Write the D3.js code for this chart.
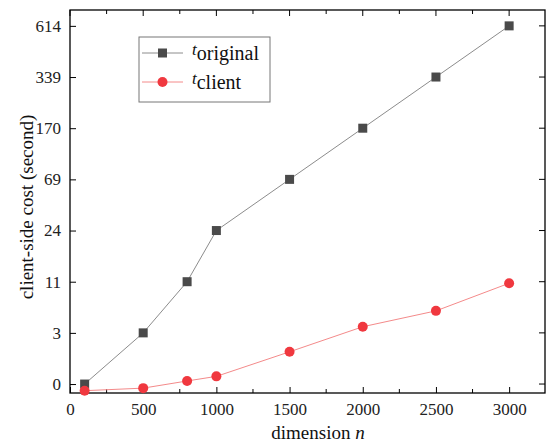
<!DOCTYPE html>
<html>
<head>
<meta charset="utf-8">
<script src="https://cdn.jsdelivr.net/npm/d3@7"></script>
<style>
  body { margin: 0; background: #fff; }
</style>
</head>
<body>
<div id="chart"></div>
<script>
// dimension n
const dims = [100, 500, 800, 1000, 1500, 2000, 2500, 3000];
// y axis is evenly spaced, tick labels are the seconds shown at each step
const yTickLabels = ["0", "3", "11", "24", "69", "170", "339", "614"];
// values in axis steps (0 = "0", 7 = "614")
const tOriginal = [0, 1, 2, 3, 4, 5, 6, 7];
const tClient = [-0.13, -0.08, 0.06, 0.15, 0.63, 1.12, 1.43, 1.97];
const xTicks = [0, 500, 1000, 1500, 2000, 2500, 3000];

const FONT = "Liberation Serif";
const width = 547, height = 445;
const margin = { top: 10, right: 2, bottom: 52, left: 70 };
const plotW = width - margin.left - margin.right;
const plotH = height - margin.top - margin.bottom;

const svg = d3.select("#chart").append("svg")
    .attr("width", width)
    .attr("height", height)
    .style("font-family", FONT);

const g = svg.append("g")
    .attr("transform", `translate(${margin.left}, ${margin.top})`);

const x = d3.scaleLinear().domain([0, 3245]).range([0, plotW]);
const y = d3.scaleLinear().domain([-0.175, 7.31]).range([plotH, 0]);

const yIdx = yTickLabels.map((_, i) => i);
const minorX = d3.range(250, 3250, 500);

// bottom axis: labels + inward ticks
const bottomAxis = g.append("g").attr("transform", `translate(0, ${plotH})`);
bottomAxis.call(d3.axisBottom(x).tickValues(xTicks).tickSize(-6).tickPadding(10).tickFormat(d3.format("d")));
bottomAxis.attr("font-family", null);
bottomAxis.selectAll(".tick text").attr("font-size", 17).attr("fill", "#222");
bottomAxis.selectAll(".domain").remove();
minorX.forEach(v => {
    bottomAxis.append("line").attr("x1", x(v)).attr("x2", x(v)).attr("y1", 0).attr("y2", -4)
        .attr("stroke", "#000");
});

// left axis
const leftAxis = g.append("g");
leftAxis.call(d3.axisLeft(y).tickValues(yIdx).tickSize(-6).tickPadding(9).tickFormat(i => yTickLabels[i]));
leftAxis.attr("font-family", null);
leftAxis.selectAll(".tick text").attr("font-size", 17).attr("fill", "#222");
leftAxis.selectAll(".domain").remove();

// top / right mirror ticks
const mirror = g.append("g");
xTicks.forEach(v => {
    mirror.append("line").attr("x1", x(v)).attr("x2", x(v)).attr("y1", 0).attr("y2", 6).attr("stroke", "#000");
});
minorX.forEach(v => {
    mirror.append("line").attr("x1", x(v)).attr("x2", x(v)).attr("y1", 0).attr("y2", 4).attr("stroke", "#000");
});
yIdx.forEach(i => {
    mirror.append("line").attr("x1", plotW).attr("x2", plotW - 6).attr("y1", y(i)).attr("y2", y(i)).attr("stroke", "#000");
});

// frame
g.append("rect").attr("width", plotW).attr("height", plotH)
    .attr("fill", "none").attr("stroke", "#000").attr("stroke-width", 1.3);

const line = d3.line().x(d => x(d[0])).y(d => y(d[1]));

// t_original
g.append("path").datum(d3.zip(dims, tOriginal))
    .attr("d", line).attr("fill", "none").attr("stroke", "#8c8c8c").attr("stroke-width", 1);
g.selectAll(".sq").data(d3.zip(dims, tOriginal)).enter().append("rect")
    .attr("x", d => x(d[0]) - 4.5).attr("y", d => y(d[1]) - 4.5)
    .attr("width", 9).attr("height", 9).attr("fill", "#4a4a4a");

// t_client
g.append("path").datum(d3.zip(dims, tClient))
    .attr("d", line).attr("fill", "none").attr("stroke", "#f48a8a").attr("stroke-width", 1);
g.selectAll(".dot").data(d3.zip(dims, tClient)).enter().append("circle")
    .attr("cx", d => x(d[0])).attr("cy", d => y(d[1])).attr("r", 5)
    .attr("fill", "#f0383f");

// legend
const lg = svg.append("g");
lg.append("rect").attr("x", 139).attr("y", 37).attr("width", 131).attr("height", 65)
    .attr("fill", "#fff").attr("stroke", "#777").attr("stroke-width", 1);
const entries = [
    { name: "original", stroke: "#8c8c8c", fill: "#4a4a4a", shape: "square", yy: 53 },
    { name: "client", stroke: "#f48a8a", fill: "#f0383f", shape: "circle", yy: 82 }
];
entries.forEach(e => {
    lg.append("line").attr("x1", 142).attr("x2", 183).attr("y1", e.yy).attr("y2", e.yy)
        .attr("stroke", e.stroke).attr("stroke-width", 1);
    if (e.shape === "square") {
        lg.append("rect").attr("x", 158).attr("y", e.yy - 4.5).attr("width", 9).attr("height", 9).attr("fill", e.fill);
    } else {
        lg.append("circle").attr("cx", 162.5).attr("cy", e.yy).attr("r", 5).attr("fill", e.fill);
    }
    const t = lg.append("text").attr("x", 192).attr("y", e.yy + 2).attr("fill", "#111");
    t.append("tspan").attr("font-style", "italic").attr("font-size", 17).text("t");
    t.append("tspan").attr("font-size", 20).attr("dy", 5).text(e.name);
});

// axis titles
svg.append("text")
    .attr("x", 318).attr("y", 439)
    .attr("text-anchor", "middle").attr("font-size", 19).attr("fill", "#111")
    .call(t => {
        t.append("tspan").text("dimension ");
        t.append("tspan").attr("font-style", "italic").text("n");
    });

svg.append("text")
    .attr("transform", `translate(33, 207) rotate(-90)`)
    .attr("text-anchor", "middle").attr("font-size", 19).attr("fill", "#111")
    .text("client-side cost (second)");
</script>
</body>
</html>
